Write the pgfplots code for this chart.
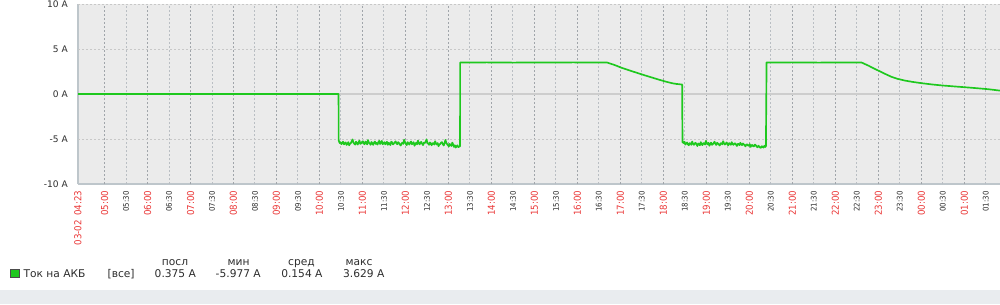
\documentclass[border=0pt]{standalone}
\usepackage{pgfplots}
\pgfplotsset{compat=1.18}
\usepackage{fontspec}
\setmainfont{DejaVu Sans}
\newfontfamily\tickfont[FakeStretch=0.9]{DejaVu Sans}
\definecolor{zgreen}{RGB}{30,200,30}
\definecolor{plotbg}{RGB}{235,235,235}
\definecolor{axisgray}{RGB}{190,198,203}
\definecolor{zerogray}{RGB}{205,205,205}
\definecolor{hourgrid}{RGB}{160,165,170}
\definecolor{halfgrid}{RGB}{185,190,195}
\definecolor{ygrid}{RGB}{200,200,200}
\definecolor{hourred}{RGB}{235,55,55}
\definecolor{labelgray}{RGB}{45,45,45}
\definecolor{strip}{RGB}{233,236,239}
\newcommand{\leg}{\fontsize{8pt}{9.6pt}\selectfont}
\begin{document}
\begin{tikzpicture}
\fill[white] (0,0) rectangle (750pt,228pt);
\fill[strip] (0,0) rectangle (750pt,10.5pt);
\begin{axis}[
  at={(58.5pt,90pt)}, anchor=south west,
  scale only axis, width=691.5pt, height=135pt,
  xmin=4.383, xmax=25.83, ymin=-10, ymax=10,
  axis background/.style={fill=plotbg},
  axis x line*=bottom, axis y line*=left,
  axis line style={axisgray, line width=1.5pt, -},
  major tick length=0pt,
  clip=false,
  ytick={-10,-5,0,5,10},
  yticklabels={-10 A,-5 A,0 A,5 A,10 A},
  yticklabel style={font=\fontsize{6.8pt}{8pt}\selectfont, text=labelgray, inner sep=0pt, xshift=-7.5pt, anchor=east},
  xtick={4.383,5,6,7,8,9,10,11,12,13,14,15,16,17,18,19,20,21,22,23,24,25},
  xticklabels={03-02\hspace{1.5pt} 04:23,05:00,06:00,07:00,08:00,09:00,10:00,11:00,12:00,13:00,14:00,15:00,16:00,17:00,18:00,19:00,20:00,21:00,22:00,23:00,00:00,01:00},
  xticklabel style={rotate=90, anchor=east, inner sep=0pt, font=\tickfont\fontsize{7.2pt}{8pt}\selectfont, text=hourred},
  xticklabel shift=4.8pt,
  extra x ticks={5.5,6.5,7.5,8.5,9.5,10.5,11.5,12.5,13.5,14.5,15.5,16.5,17.5,18.5,19.5,20.5,21.5,22.5,23.5,24.5,25.5},
  extra x tick labels={05:30,06:30,07:30,08:30,09:30,10:30,11:30,12:30,13:30,14:30,15:30,16:30,17:30,18:30,19:30,20:30,21:30,22:30,23:30,00:30,01:30},
  extra x tick style={xticklabel style={font=\tickfont\fontsize{5.85pt}{7pt}\selectfont, text=labelgray}, xticklabel shift=5.3pt},
]
\pgfplotsinvokeforeach{5,6,7,8,9,10,11,12,13,14,15,16,17,18,19,20,21,22,23,24,25}{
  \draw[hourgrid, line width=0.75pt, dash pattern=on 1.5pt off 1.5pt] (axis cs:#1,-10) -- (axis cs:#1,10);
}
\pgfplotsinvokeforeach{5.5,6.5,7.5,8.5,9.5,10.5,11.5,12.5,13.5,14.5,15.5,16.5,17.5,18.5,19.5,20.5,21.5,22.5,23.5,24.5,25.5}{
  \draw[halfgrid, line width=0.75pt, dash pattern=on 1.5pt off 1.5pt] (axis cs:#1,-10) -- (axis cs:#1,10);
}
\pgfplotsinvokeforeach{-5,5,10}{
  \draw[ygrid, line width=0.75pt, dash pattern=on 1.5pt off 1.5pt] (axis cs:4.383,#1) -- (axis cs:25.83,#1);
}
\draw[zerogray, line width=1.5pt] (axis cs:4.383,0) -- (axis cs:25.83,0);
\addplot[zgreen, line width=1.25pt, line join=round] table {
4.383 0
10.444 0
10.446 -5.15
10.47 -5.45
10.49 -5.35
10.51 -5.58
10.53 -5.42
10.55 -5.30
10.57 -5.60
10.59 -5.48
10.61 -5.38
10.63 -5.66
10.65 -5.55
10.67 -5.35
10.69 -5.70
10.71 -5.52
10.73 -5.45
10.75 -5.25
10.77 -5.05
10.79 -5.40
10.81 -5.52
10.83 -5.62
10.85 -5.30
10.87 -5.45
10.89 -5.62
10.91 -5.35
10.93 -5.18
10.95 -5.55
10.97 -5.48
10.99 -5.32
11.01 -5.25
11.03 -5.50
11.05 -5.58
11.07 -5.28
11.09 -5.40
11.11 -5.60
11.13 -5.12
11.15 -5.42
11.17 -5.50
11.19 -5.65
11.21 -5.33
11.23 -5.48
11.25 -5.65
11.27 -5.40
11.29 -5.28
11.31 -5.55
11.33 -5.44
11.35 -5.62
11.37 -5.36
11.39 -5.20
11.41 -5.55
11.43 -5.40
11.45 -5.22
11.47 -5.58
11.49 -5.47
11.51 -5.35
11.53 -5.60
11.55 -5.45
11.57 -5.31
11.59 -5.65
11.61 -5.42
11.63 -5.52
11.65 -5.68
11.67 -5.30
11.69 -5.38
11.71 -5.60
11.73 -5.50
11.75 -5.38
11.77 -5.26
11.79 -5.48
11.81 -5.58
11.83 -5.35
11.85 -5.45
11.87 -5.62
11.89 -5.72
11.91 -5.50
11.93 -5.40
11.95 -5.55
11.97 -5.08
11.99 -5.35
12.01 -5.55
12.03 -5.68
12.05 -5.35
12.07 -5.48
12.09 -5.62
12.11 -5.40
12.13 -5.28
12.15 -5.58
12.17 -5.50
12.19 -5.35
12.21 -5.75
12.23 -5.55
12.25 -5.42
12.27 -5.60
12.29 -5.18
12.31 -5.45
12.33 -5.60
12.35 -5.38
12.37 -5.33
12.39 -5.55
12.41 -5.68
12.43 -5.40
12.45 -5.45
12.47 -5.30
12.49 -5.05
12.51 -5.42
12.53 -5.52
12.55 -5.65
12.57 -5.38
12.59 -5.50
12.61 -5.70
12.63 -5.45
12.65 -5.48
12.67 -5.62
12.69 -5.25
12.71 -5.50
12.73 -5.62
12.75 -5.45
12.77 -5.80
12.79 -5.60
12.81 -5.55
12.83 -5.40
12.85 -5.35
12.87 -5.58
12.89 -5.72
12.91 -5.48
12.93 -5.10
12.95 -5.42
12.97 -5.58
12.99 -5.70
13.01 -5.82
13.03 -5.55
13.05 -5.65
13.07 -5.78
13.09 -5.40
13.11 -5.62
13.13 -5.88
13.15 -5.70
13.17 -5.95
13.19 -5.80
13.21 -5.70
13.23 -5.90
13.25 -5.85
13.27 -5.80
13.272 3.50
13.9 3.51
14.5 3.49
15.2 3.50
15.9 3.51
16.691 3.50
16.75 3.40
16.83 3.28
16.92 3.12
17.00 2.96
17.10 2.80
17.25 2.56
17.40 2.33
17.55 2.10
17.70 1.88
17.85 1.66
18.00 1.45
18.10 1.32
18.20 1.20
18.30 1.12
18.38 1.08
18.437 1.05
18.439 -2.0
18.445 -5.35
18.47 -5.45
18.49 -5.30
18.51 -5.62
18.53 -5.50
18.55 -5.38
18.57 -5.60
18.59 -5.70
18.61 -5.45
18.63 -5.50
18.65 -5.65
18.67 -5.28
18.69 -5.52
18.71 -5.65
18.73 -5.48
18.75 -5.42
18.77 -5.60
18.79 -5.78
18.81 -5.50
18.83 -5.55
18.85 -5.70
18.87 -5.35
18.89 -5.58
18.91 -5.68
18.93 -5.45
18.95 -5.48
18.97 -5.62
18.99 -5.20
19.01 -5.50
19.03 -5.60
19.05 -5.42
19.07 -5.75
19.09 -5.55
19.11 -5.40
19.13 -5.65
19.15 -5.58
19.17 -5.45
19.19 -5.30
19.21 -5.55
19.23 -5.66
19.25 -5.42
19.27 -5.50
19.29 -5.62
19.31 -5.72
19.33 -5.50
19.35 -5.45
19.37 -5.60
19.39 -5.25
19.41 -5.48
19.43 -5.62
19.45 -5.52
19.47 -5.38
19.49 -5.58
19.51 -5.70
19.53 -5.45
19.55 -5.52
19.57 -5.65
19.59 -5.35
19.61 -5.55
19.63 -5.65
19.65 -5.50
19.67 -5.48
19.69 -5.62
19.71 -5.78
19.73 -5.55
19.75 -5.55
19.77 -5.68
19.79 -5.42
19.81 -5.60
19.83 -5.68
19.85 -5.50
19.87 -5.58
19.89 -5.70
19.91 -5.82
19.93 -5.62
19.95 -5.60
19.97 -5.72
19.99 -5.75
20.01 -5.58
20.03 -5.88
20.05 -5.70
20.07 -5.65
20.09 -5.82
20.11 -5.80
20.13 -5.62
20.15 -5.70
20.17 -5.85
20.19 -5.92
20.21 -5.75
20.23 -5.85
20.25 -5.95
20.27 -5.977
20.29 -5.80
20.31 -5.90
20.33 -5.95
20.35 -5.75
20.37 -5.88
20.385 -5.80
20.40 3.50
21.0 3.51
21.6 3.49
22.2 3.50
22.61 3.50
22.70 3.30
22.77 3.15
22.88 2.88
23.00 2.60
23.15 2.25
23.31 1.90
23.45 1.68
23.62 1.49
23.80 1.34
24.01 1.20
24.25 1.06
24.48 0.95
24.80 0.83
25.10 0.72
25.35 0.62
25.56 0.53
25.72 0.44
25.83 0.375
};
\end{axis}
% legend
\fill[zgreen, draw=black!70, line width=0.5pt] (7.5pt,20.25pt) rectangle (14.25pt,26.25pt);
\begin{scope}[every node/.style={inner sep=0pt, font=\leg, text=labelgray}]
\node[anchor=base west] at (17.5pt,20.25pt) {Ток на АКБ};
\node[anchor=base west] at (80.5pt,20.25pt) {[все]};
\node[anchor=base] at (131.5pt,20.25pt) {0.375 A};
\node[anchor=base] at (178.7pt,20.25pt) {-5.977 A};
\node[anchor=base] at (226.4pt,20.25pt) {0.154 A};
\node[anchor=base] at (272.8pt,20.25pt) {3.629 A};
\node[anchor=base] at (131.25pt,29.25pt) {посл};
\node[anchor=base] at (178.9pt,29.25pt) {мин};
\node[anchor=base] at (226.1pt,29.25pt) {сред};
\node[anchor=base] at (269.3pt,29.25pt) {макс};
\end{scope}
\pgfresetboundingbox
\useasboundingbox (0,0) rectangle (750pt,228pt);
\end{tikzpicture}
\end{document}
